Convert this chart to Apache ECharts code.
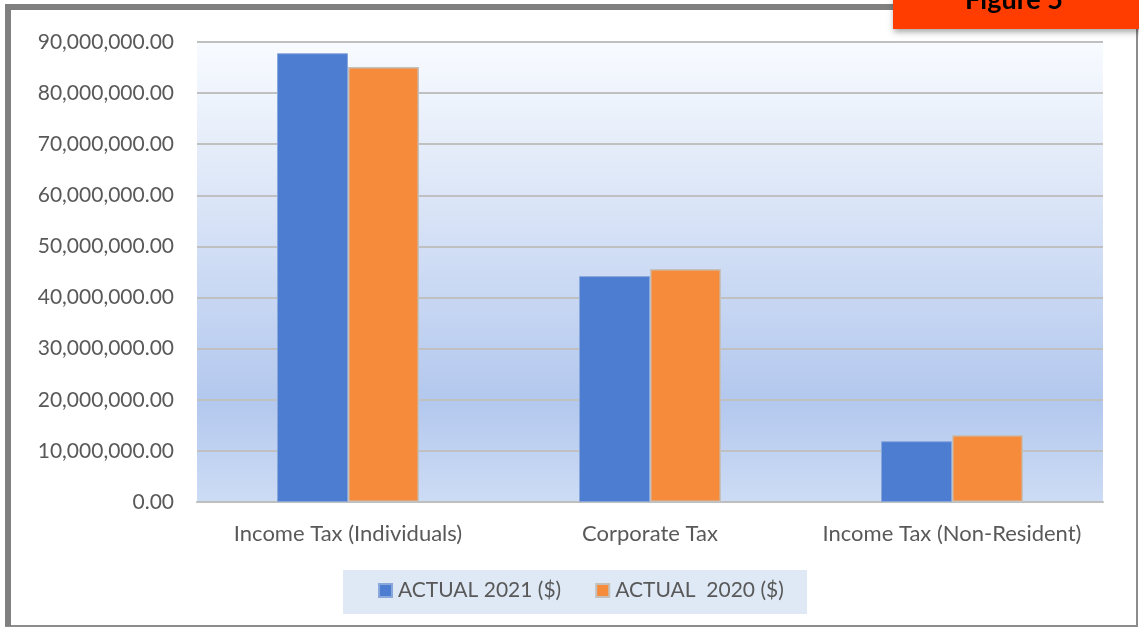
<!DOCTYPE html>
<html>
<head>
<meta charset="utf-8">
<script src="https://cdn.jsdelivr.net/npm/echarts@6/dist/echarts.min.js"></script>
<style>
  html, body { margin: 0; padding: 0; background: #ffffff; }
  #chart { width: 1139px; height: 628px; }
</style>
</head>
<body>
<div id="chart"></div>
<script>
// Tax revenue by type, 2021 vs 2020
var categories = ['Income Tax (Individuals)', 'Corporate Tax', 'Income Tax (Non-Resident)'];
var actual2021 = [87800000, 44200000, 11900000];
var actual2020 = [85100000, 45600000, 13100000];
var seriesNames = ['ACTUAL 2021 ($)', 'ACTUAL  2020 ($)'];
var figureTitle = 'Figure 5';

var FONT = 'Lato';
var TEXT = '#595959';

function money(v) {
  return v.toLocaleString('en-US', { minimumFractionDigits: 2, maximumFractionDigits: 2 });
}

var chart = echarts.init(document.getElementById('chart'), null, { renderer: 'canvas' });

chart.setOption({
  animation: false,
  backgroundColor: '#ffffff',
  textStyle: { fontFamily: FONT },
  grid: {
    left: 197, right: 36, top: 42, bottom: 126,
    show: true, borderWidth: 0,
    backgroundColor: new echarts.graphic.LinearGradient(0, 0, 0, 1, [
      { offset: 0, color: '#f8fbff' },
      { offset: 0.3, color: '#dfe8f8' },
      { offset: 0.78, color: '#b3c8ee' },
      { offset: 1, color: '#cddcf5' }
    ])
  },
  xAxis: {
    type: 'category',
    data: categories,
    axisLine: { show: true, lineStyle: { color: '#bfbfbf', width: 2 } },
    axisTick: { show: false },
    axisLabel: { color: TEXT, fontSize: 22, fontFamily: FONT, margin: 21, interval: 0, hideOverlap: false }
  },
  yAxis: {
    type: 'value',
    min: 0, max: 90000000, interval: 10000000,
    axisLine: { show: false },
    axisTick: { show: false },
    splitLine: { lineStyle: { color: '#c0c0c0', width: 2 } },
    axisLabel: { color: TEXT, fontSize: 21, fontFamily: FONT, margin: 23, formatter: money }
  },
  legend: {
    left: 378, top: 580,
    padding: 0,
    icon: 'rect',
    itemWidth: 13, itemHeight: 13, itemGap: 34,
    textStyle: { color: TEXT, fontSize: 21, fontFamily: FONT, padding: [0, 0, 0, 1] },
    data: seriesNames
  },
  series: [
    {
      name: seriesNames[0], type: 'bar', data: actual2021,
      barWidth: 71, barGap: '0%',
      itemStyle: { color: '#4c7dd1', borderColor: '#8aa7dc', borderWidth: 1 }
    },
    {
      name: seriesNames[1], type: 'bar', data: actual2020,
      barWidth: 71,
      itemStyle: { color: '#f58b3b', borderColor: '#c4c0bc', borderWidth: 1.5 }
    }
  ],
  graphic: [
    // frame around the chart
    { type: 'rect', z: -10, silent: true,
      shape: { x: 6, y: 5, width: 1131, height: 621 },
      style: { fill: '#ffffff', stroke: '#8c8c8c', lineWidth: 2 } },
    { type: 'rect', z: -9, silent: true,
      shape: { x: 5, y: 4, width: 6, height: 622 },
      style: { fill: '#808080' } },
    { type: 'rect', z: -9, silent: true,
      shape: { x: 5, y: 4, width: 890, height: 6 },
      style: { fill: '#808080' } },
    // legend background
    { type: 'rect', z: -5, silent: true,
      shape: { x: 343, y: 570, width: 464, height: 44 },
      style: { fill: '#dee9f5' } },
    // figure tag
    { type: 'rect', z: 20, silent: true,
      shape: { x: 893, y: -4, width: 250, height: 33 },
      style: { fill: '#ff3d00', shadowBlur: 6, shadowOffsetX: 1, shadowOffsetY: 3, shadowColor: 'rgba(0,0,0,0.35)' } },
    { type: 'text', z: 21, silent: true,
      x: 1014, y: 0.5,
      style: { text: figureTitle, fill: '#000000', font: 'bold 27px ' + FONT, align: 'center', verticalAlign: 'middle' } }
  ]
});
</script>
</body>
</html>
